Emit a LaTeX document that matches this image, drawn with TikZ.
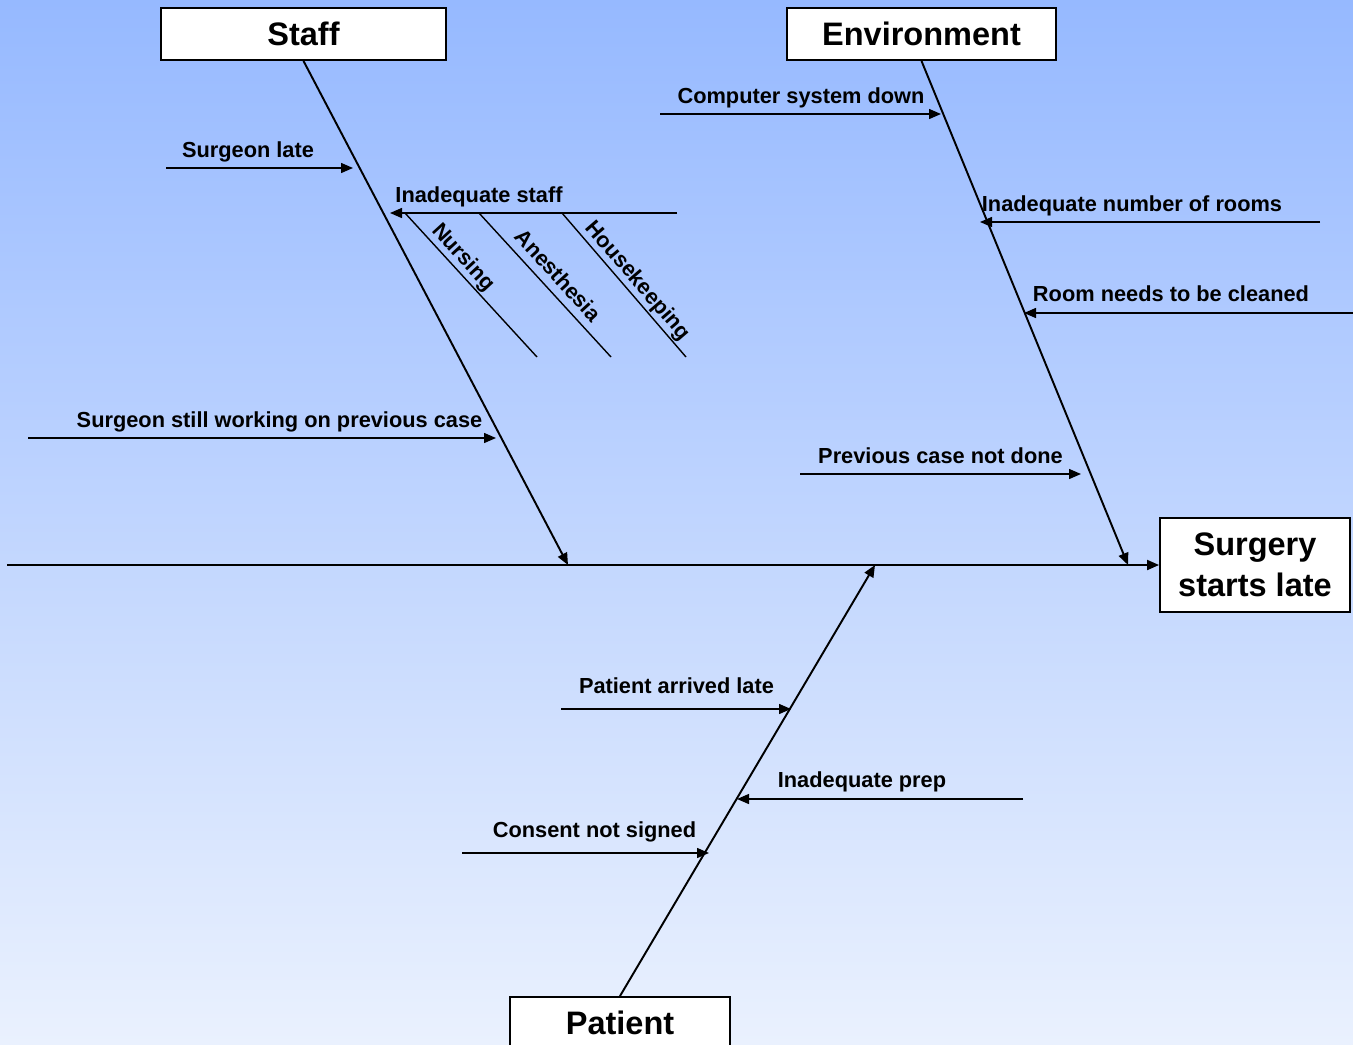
\documentclass[tikz,border=0pt]{standalone}
\usepackage{fontspec}
\setmainfont{Liberation Sans}
\usetikzlibrary{arrows.meta,positioning,calc}
\definecolor{skytop}{RGB}{150,185,255}
\definecolor{skybot}{RGB}{234,241,254}
\tikzset{
  cnode/.style={rectangle,draw,line width=1.1pt,fill=white,inner sep=0pt,font=\fontsize{18.5}{23}\selectfont\bfseries},
  lbl/.style={inner sep=0pt,anchor=base,font=\fontsize{12.4}{14}\selectfont\bfseries},
  slbl/.style={inner sep=1pt,font=\fontsize{12.4}{14}\selectfont\bfseries},
  bone/.style={-{Triangle[length=2.4mm,width=2mm]},line width=1.1pt},
  rib/.style={-{Triangle[length=2.4mm,width=2mm]},line width=0.8pt},
  sub/.style={line width=0.8pt}
}

\begin{document}
\begin{tikzpicture}[x=0.02cm,y=-0.02cm]
\fill[top color=skytop,bottom color=skybot] (0,0) rectangle (1353,1045);
\useasboundingbox (0,0) rectangle (1353,1045);
\clip (0,0) rectangle (1353,1045);
% category boxes and effect
\node[cnode, minimum width=5.7cm, minimum height=1.04cm] (staff) at (303.5,34) {Staff};
\node[cnode, minimum width=5.38cm, minimum height=1.04cm] (env) at (921.5,34) {Environment};
\node[cnode, minimum width=4.4cm, minimum height=1.04cm] (patient) at (620,1023) {Patient};
\node[cnode, minimum width=3.8cm, minimum height=1.88cm, align=center] (effect) at (1255,565) {Surgery\\starts late};
% spine and bones
\coordinate (tail) at (7,565);
\coordinate (sj) at (568,565);
\coordinate (ej) at (1128,565);
\coordinate (pj) at (875,565);
\draw[bone] (tail) -- (effect.west);
\draw[bone] (staff.south) -- (sj);
\draw[bone] (env.south) -- (ej);
\draw[bone] (patient.north) -- (pj);
% staff causes
\coordinate (sl0) at (166,168);
\coordinate (sl1) at (353,168);
\draw[rib] (sl0) -- (sl1);
\node[lbl] (sltxt) at (248,157) {Surgeon late};
\coordinate (is0) at (677,213);
\coordinate (is1) at (390,213);
\draw[rib] (is0) -- (is1);
\node[lbl] (istxt) at (479,202) {Inadequate staff};
\coordinate (nu0) at (405,213);
\coordinate (nu1) at (537,357);
\draw[sub] (nu0) -- (nu1) node[slbl, pos=.37, sloped, above] (nutxt) {Nursing};
\coordinate (an0) at (479,213);
\coordinate (an1) at (611,357);
\draw[sub] (an0) -- (an1) node[slbl, pos=.51, sloped, above=3.5pt] (antxt) {Anesthesia};
\coordinate (hk0) at (562,213);
\coordinate (hk1) at (686,357);
\draw[sub] (hk0) -- (hk1) node[slbl, pos=.53, sloped, above] (hktxt) {Housekeeping};
\coordinate (sw0) at (28,438);
\coordinate (sw1) at (496,438);
\draw[rib] (sw0) -- (sw1);
\node[lbl] (swtxt) at (279.5,427) {Surgeon still working on previous case};
% environment causes
\coordinate (cs0) at (660,114);
\coordinate (cs1) at (941,114);
\draw[rib] (cs0) -- (cs1);
\node[lbl] (cstxt) at (801,103) {Computer system down};
\coordinate (nr0) at (1320,222);
\coordinate (nr1) at (980,222);
\draw[rib] (nr0) -- (nr1);
\node[lbl] (nrtxt) at (1132,211) {Inadequate number of rooms};
\coordinate (rc0) at (1353,313);
\coordinate (rc1) at (1024,313);
\draw[rib] (rc0) -- (rc1);
\node[lbl] (rctxt) at (1171,301) {Room needs to be cleaned};
\coordinate (pc0) at (800,474);
\coordinate (pc1) at (1081,474);
\draw[rib] (pc0) -- (pc1);
\node[lbl] (pctxt) at (940.5,463) {Previous case not done};
% patient causes
\coordinate (pa0) at (561,709);
\coordinate (pa1) at (791,709);
\draw[rib] (pa0) -- (pa1);
\node[lbl] (patxt) at (676.5,693) {Patient arrived late};
\coordinate (ip0) at (1023,799);
\coordinate (ip1) at (737,799);
\draw[rib] (ip0) -- (ip1);
\node[lbl] (iptxt) at (862,787) {Inadequate prep};
\coordinate (cn0) at (462,853);
\coordinate (cn1) at (709,853);
\draw[rib] (cn0) -- (cn1);
\node[lbl] (cntxt) at (594.5,837) {Consent not signed};
\end{tikzpicture}
\end{document}
